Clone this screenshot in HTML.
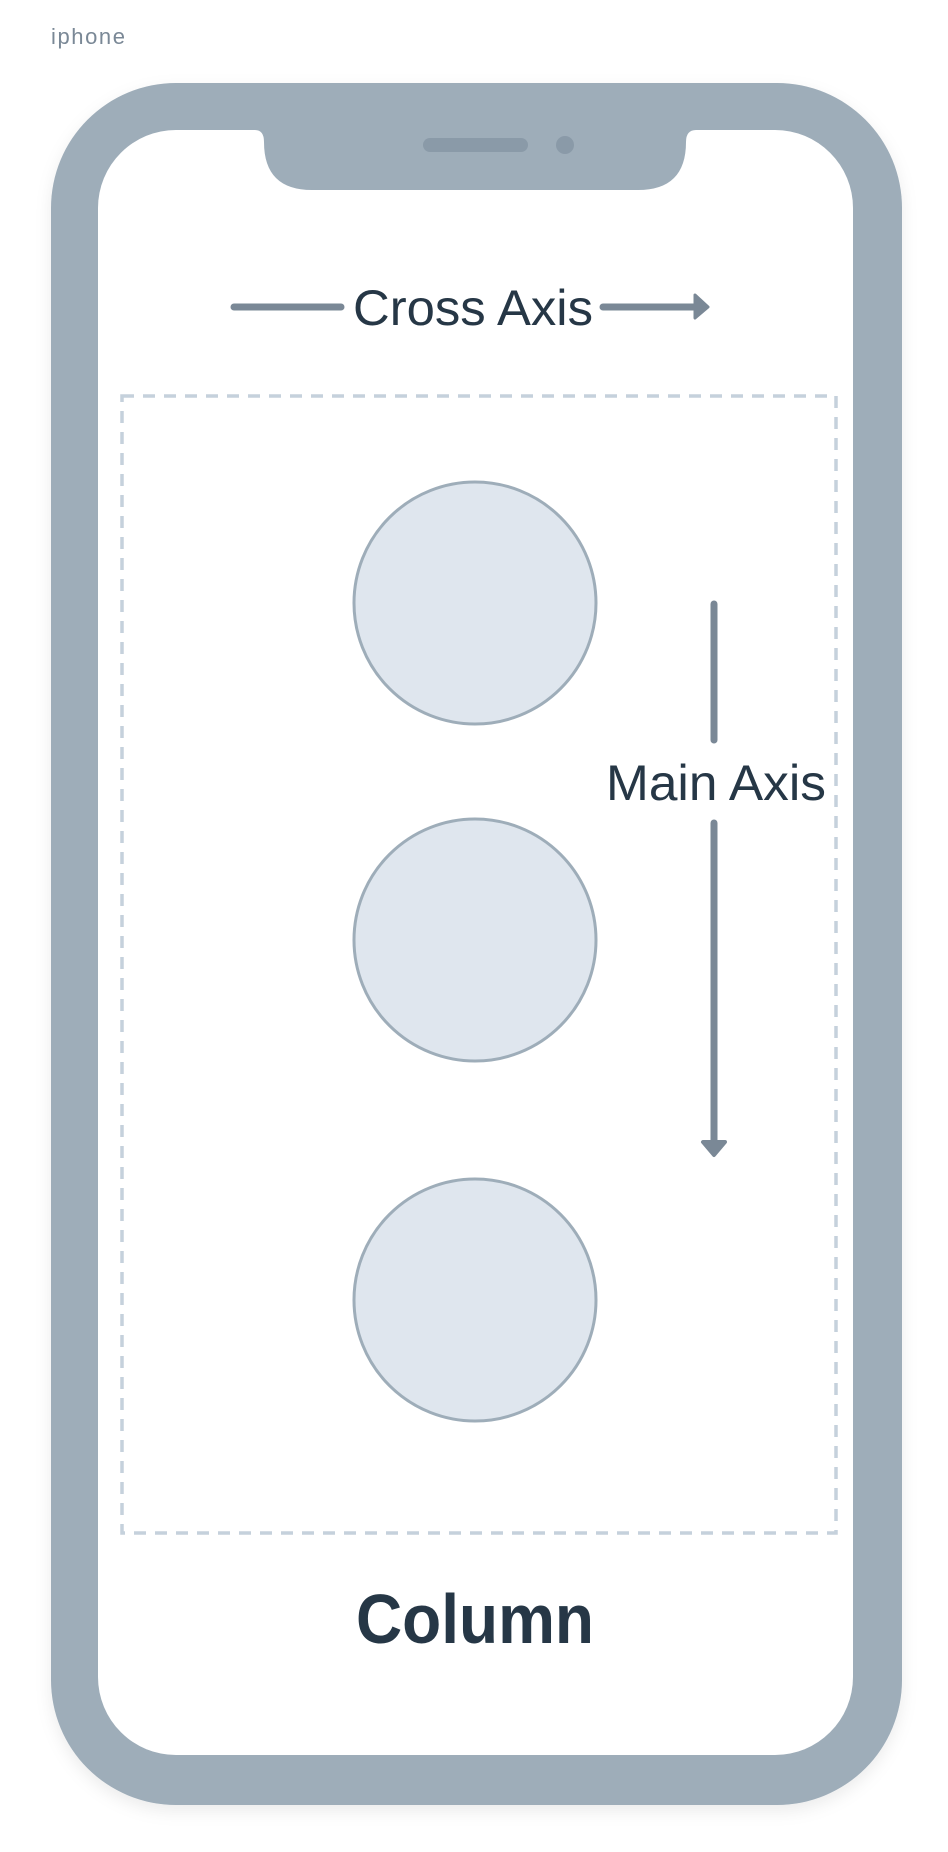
<!DOCTYPE html>
<html><head><meta charset="utf-8"><style>
html,body{margin:0;padding:0;background:#fff;width:948px;height:1852px;overflow:hidden}
svg{display:block}
text{font-family:"Liberation Sans",sans-serif}
</style></head><body>
<svg width="948" height="1852" viewBox="0 0 948 1852">
<defs><filter id="sh" x="-10%" y="-10%" width="120%" height="120%"><feDropShadow dx="0" dy="6" stdDeviation="8" flood-color="#000" flood-opacity="0.08"/></filter></defs>
<text x="51" y="44" font-size="22" fill="#7a8896" textLength="74">iphone</text>
<rect x="51" y="83" width="851" height="1722" rx="125" ry="125" fill="#9eadb9" filter="url(#sh)"/>
<rect x="98" y="130" width="755" height="1625" rx="78" ry="78" fill="#fff"/>
<path d="M255 130 Q264 130 264 142 Q264 190 312 190 L638 190 Q686 190 686 142 Q686 130 696 130 Z" fill="#9eadb9"/>
<rect x="423" y="138" width="105" height="14" rx="7" fill="#8a9aa8"/>
<circle cx="565" cy="145" r="9" fill="#8a9aa8"/>
<g>
<line x1="234" y1="307" x2="341" y2="307" stroke="#7a8896" stroke-width="7" stroke-linecap="round"/>
<line x1="603" y1="307" x2="697" y2="307" stroke="#7a8896" stroke-width="7" stroke-linecap="round"/>
<path d="M695 295 L708 307 L695 318 Z" fill="#7a8896" stroke="#7a8896" stroke-width="3" stroke-linejoin="round"/>
</g>
<text x="473" y="325" font-size="50" fill="#263746" text-anchor="middle" textLength="240" lengthAdjust="spacingAndGlyphs">Cross Axis</text>
<rect x="122" y="396" width="714" height="1137" fill="none" stroke="#c5d1dc" stroke-width="3.5" stroke-dasharray="12 9"/>
<circle cx="475" cy="603" r="121" fill="#dfe6ee" stroke="#9eadb9" stroke-width="3"/>
<circle cx="475" cy="940" r="121" fill="#dfe6ee" stroke="#9eadb9" stroke-width="3"/>
<circle cx="475" cy="1300" r="121" fill="#dfe6ee" stroke="#9eadb9" stroke-width="3"/>
<g>
<line x1="714" y1="604" x2="714" y2="740" stroke="#7a8896" stroke-width="7" stroke-linecap="round"/>
<line x1="714" y1="823" x2="714" y2="1145" stroke="#7a8896" stroke-width="7" stroke-linecap="round"/>
<path d="M703 1142 L725 1142 L714 1155 Z" fill="#7a8896" stroke="#7a8896" stroke-width="4" stroke-linejoin="round"/>
</g>
<text x="716" y="800" font-size="50" fill="#263746" text-anchor="middle" textLength="220" lengthAdjust="spacingAndGlyphs">Main Axis</text>
<text x="475" y="1643" font-size="70" font-weight="bold" fill="#263746" text-anchor="middle" textLength="238" lengthAdjust="spacingAndGlyphs">Column</text>
</svg>
</body></html>
